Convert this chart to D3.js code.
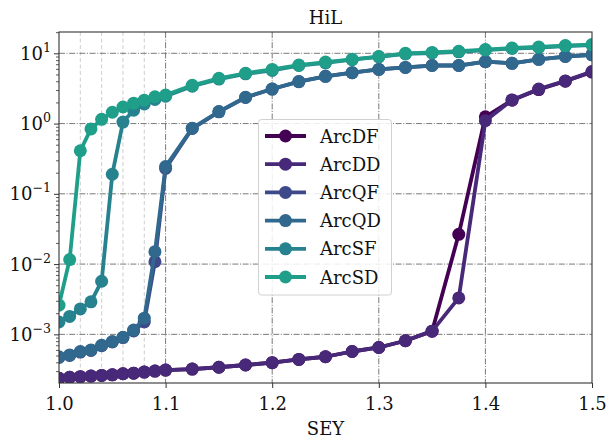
<!DOCTYPE html>
<html><head><meta charset="utf-8">
<script src="https://cdn.jsdelivr.net/npm/d3@7"></script>
<style>body{margin:0;background:#fff}svg{display:block}</style>
</head><body><svg id="c" width="610" height="440"></svg>
<script>
const sey = [1.00,1.01,1.02,1.03,1.04,1.05,1.06,1.07,1.08,1.09,1.10,1.125,1.15,1.175,1.2,1.225,1.25,1.275,1.3,1.325,1.35,1.375,1.4,1.425,1.45,1.475,1.5];
const seriesNames = ["ArcDF","ArcDD","ArcQF","ArcQD","ArcSF","ArcSD"];
const arcDF = [2.37e-4,2.45e-4,2.5e-4,2.55e-4,2.6e-4,2.65e-4,2.75e-4,2.8e-4,2.9e-4,3.0e-4,3.1e-4,3.2e-4,3.4e-4,3.66e-4,3.95e-4,4.4e-4,4.8e-4,5.7e-4,6.5e-4,8.1e-4,1.11e-3,0.0265,1.25,2.15,3.05,4.0,5.4];
const arcDD = [2.37e-4,2.45e-4,2.5e-4,2.55e-4,2.6e-4,2.65e-4,2.75e-4,2.8e-4,2.9e-4,3.0e-4,3.1e-4,3.2e-4,3.4e-4,3.66e-4,3.95e-4,4.4e-4,4.8e-4,5.7e-4,6.5e-4,8.1e-4,1.11e-3,3.3e-3,1.1,2.17,3.1,4.05,5.5];
const arcQF = [4.7e-4,5.0e-4,5.6e-4,5.9e-4,6.9e-4,7.8e-4,9.0e-4,1.12e-3,1.5e-3,0.0108,0.23,0.85,1.47,2.35,3.1,3.95,4.7,5.3,5.9,6.3,6.7,6.7,7.6,7.2,8.2,9.0,9.5];
const arcQD = [4.8e-4,5.1e-4,5.7e-4,6.0e-4,7.0e-4,7.9e-4,9.1e-4,1.15e-3,1.7e-3,0.015,0.245,0.86,1.48,2.37,3.1,3.96,4.7,5.3,5.9,6.3,6.7,6.7,7.6,7.2,8.2,9.0,9.5];
const arcSF = [1.5e-3,1.8e-3,2.3e-3,2.9e-3,5.7e-3,0.19,1.05,1.55,1.9,2.2,2.45,3.4,4.3,5.1,5.7,6.7,7.3,8.1,8.9,9.8,10.1,10.5,11.1,11.7,12.1,12.7,13.1];
const arcSD = [2.6e-3,0.0116,0.41,0.84,1.15,1.45,1.72,1.95,2.15,2.4,2.55,3.5,4.4,5.2,5.9,6.8,7.5,8.2,9.0,10.0,10.3,10.7,11.3,11.9,12.3,12.9,13.3];
const seriesValues = [arcDF, arcDD, arcQF, arcQD, arcSF, arcSD];
const xTicks = [1.0,1.1,1.2,1.3,1.4,1.5];
const xMinorGrid = [1.02,1.04,1.06,1.08];
const yExps = [-3,-2,-1,0,1];

const svg = d3.select("#c");
const L = 59, R = 592, T = 32, B = 383;
const x = d3.scaleLinear().domain([1.0,1.5]).range([L,R]);
const y = d3.scaleLog().domain([2.03e-4, 20.1]).range([B,T]);
const colors = seriesNames.map((d,i)=>d3.interpolateViridis(i/9));
const font = "'DejaVu Serif', serif";

// minor x grid
svg.append("g").selectAll("line").data(xMinorGrid).join("line")
  .attr("x1",d=>x(d)).attr("x2",d=>x(d)).attr("y1",T).attr("y2",B)
  .attr("stroke","#c8c8c8").attr("stroke-width",0.9).attr("stroke-dasharray","4,2.5");
// major grid
const gridStyle = {stroke:"#6a6a6a", w:0.9, dash:"6,1.6,1,1.6"};
svg.append("g").selectAll("line").data(xTicks.slice(1,-1)).join("line")
  .attr("x1",d=>x(d)).attr("x2",d=>x(d)).attr("y1",T).attr("y2",B)
  .attr("stroke",gridStyle.stroke).attr("stroke-width",gridStyle.w).attr("stroke-dasharray",gridStyle.dash);
svg.append("g").selectAll("line").data(yExps).join("line")
  .attr("x1",L).attr("x2",R).attr("y1",d=>y(Math.pow(10,d))).attr("y2",d=>y(Math.pow(10,d)))
  .attr("stroke",gridStyle.stroke).attr("stroke-width",gridStyle.w).attr("stroke-dasharray",gridStyle.dash);

// axes
const xAxis = d3.axisBottom(x).tickValues(xTicks).tickFormat(d3.format(".1f")).tickSize(5).tickPadding(6);
const gx = svg.append("g").attr("transform",`translate(0,${B})`).call(xAxis);
gx.select(".domain").remove();
gx.selectAll("line").attr("stroke","#333").attr("stroke-width",1);
gx.selectAll("text").attr("font-family",font).attr("font-size",18).attr("fill","#111").attr("dy","0.9em");

const minorY = [];
for (let e=-4;e<=1;e++) for (let m=2;m<=9;m++){ const v=m*Math.pow(10,e); if(v>=2.03e-4 && v<=20.1) minorY.push(v);}
const yAxisMinor = d3.axisLeft(y).tickValues(minorY).tickFormat("").tickSize(3);
const gym = svg.append("g").attr("transform",`translate(${L},0)`).call(yAxisMinor);
gym.select(".domain").remove();
gym.selectAll("line").attr("stroke","#333").attr("stroke-width",0.8);
const yAxis = d3.axisLeft(y).tickValues(yExps.map(e=>Math.pow(10,e))).tickFormat("").tickSize(5);
const gy = svg.append("g").attr("transform",`translate(${L},0)`).call(yAxis);
gy.select(".domain").remove();
gy.selectAll("line").attr("stroke","#333").attr("stroke-width",1);
const ylab = svg.append("g").selectAll("text").data(yExps).join("text")
  .attr("x",L-8).attr("y",d=>y(Math.pow(10,d))+6.5)
  .attr("text-anchor","end").attr("font-family",font).attr("fill","#111");
ylab.append("tspan").attr("font-size",18).text("10");
ylab.append("tspan").attr("font-size",12.6).attr("dy",-8).text(d=>d<0?"\u2212"+(-d):String(d));

// data
svg.append("defs").append("clipPath").attr("id","clip").append("rect")
  .attr("x",L).attr("y",T).attr("width",R-L).attr("height",B-T);
const plot = svg.append("g").attr("clip-path","url(#clip)");
const line = d3.line().x((d,i)=>x(sey[i])).y(d=>y(d));
seriesValues.forEach((vals,k)=>{
  const g = plot.append("g");
  g.append("path").datum(vals).attr("d",line).attr("fill","none")
    .attr("stroke",colors[k]).attr("stroke-width",3.8).attr("stroke-linejoin","round");
  g.selectAll("circle").data(vals).join("circle")
    .attr("cx",(d,i)=>x(sey[i])).attr("cy",d=>y(d)).attr("r",6.5).attr("fill",colors[k]);
});

// frame
svg.append("rect").attr("x",L).attr("y",T).attr("width",R-L).attr("height",B-T)
  .attr("fill","none").attr("stroke","#333").attr("stroke-width",1.1);

// legend
const lg = svg.append("g");
lg.append("rect").attr("x",258.5).attr("y",119.5).attr("width",133).attr("height",175.5).attr("rx",3)
  .attr("fill","#fff").attr("fill-opacity",0.85).attr("stroke","#d0d0d0").attr("stroke-width",1);
seriesNames.forEach((n,k)=>{
  const yy = 136 + k*28.2;
  lg.append("line").attr("x1",265).attr("x2",306).attr("y1",yy).attr("y2",yy)
    .attr("stroke",colors[k]).attr("stroke-width",3.8);
  lg.append("circle").attr("cx",285.5).attr("cy",yy).attr("r",6.5).attr("fill",colors[k]);
  lg.append("text").attr("x",320).attr("y",yy+6.5).attr("font-family",font).attr("font-size",18)
    .attr("fill","#111").text(n);
});

// title and label
svg.append("text").attr("x",(L+R)/2).attr("y",24).attr("text-anchor","middle")
  .attr("font-family",font).attr("font-size",18).attr("fill","#111").text("HiL");
svg.append("text").attr("x",(L+R)/2).attr("y",435).attr("text-anchor","middle")
  .attr("font-family",font).attr("font-size",18).attr("fill","#111").text("SEY");
</script></body></html>
